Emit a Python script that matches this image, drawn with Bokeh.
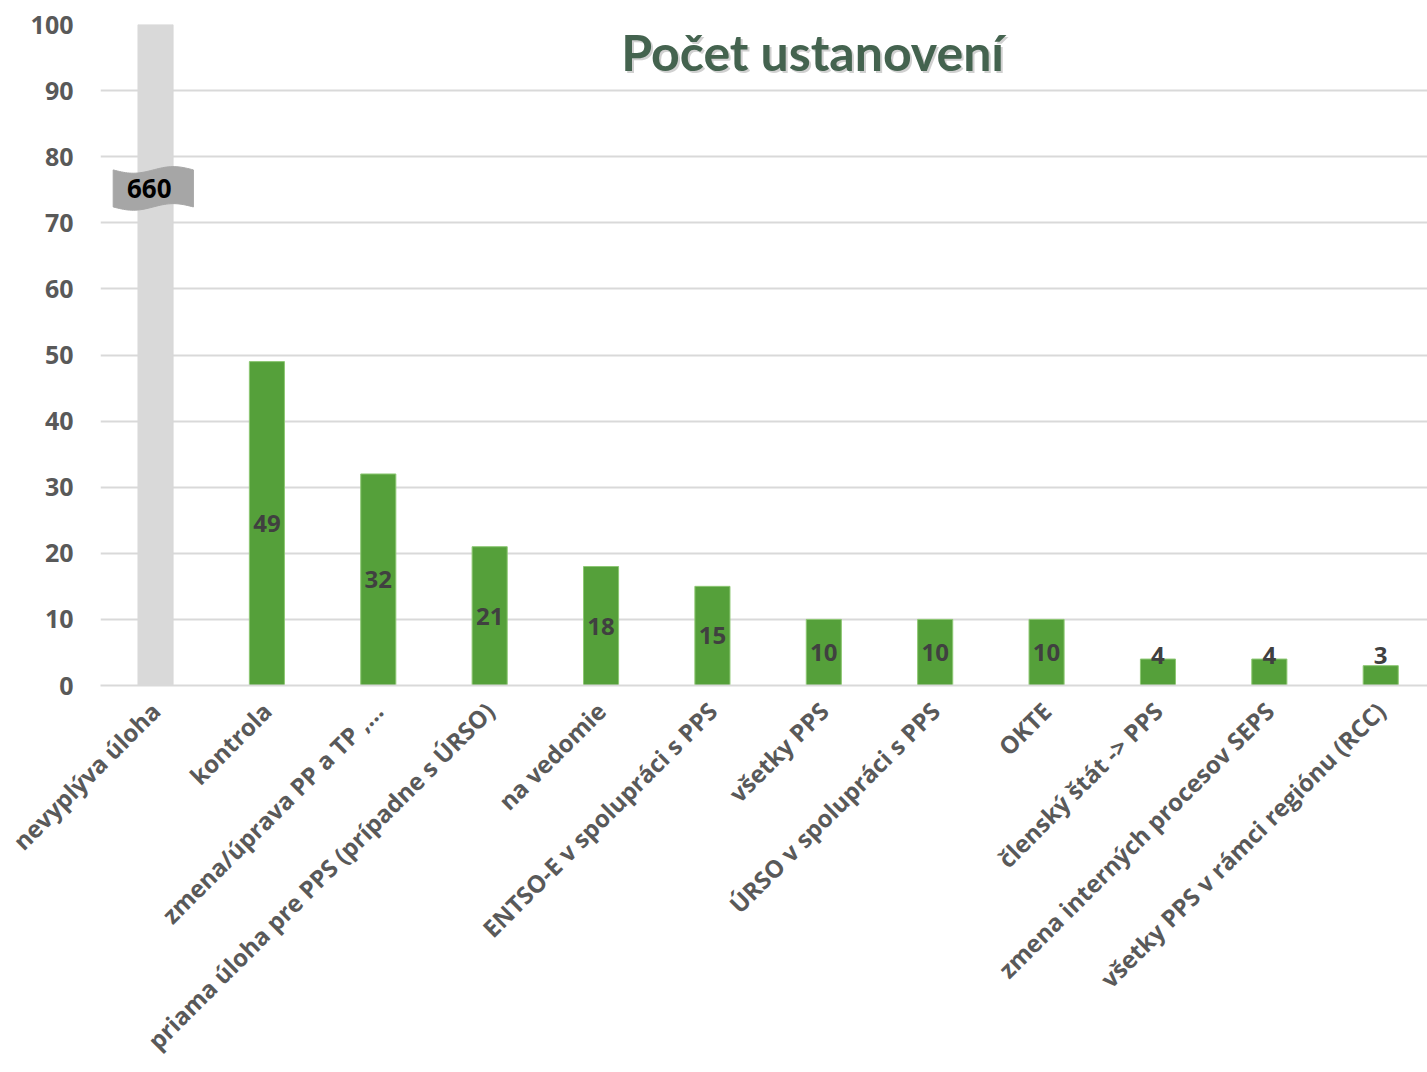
import numpy as np
from bokeh.plotting import figure
from bokeh.models import Range1d, FixedTicker, Label, LabelSet, ColumnDataSource
from bokeh.core.properties import value
from bokeh.embed import file_html
from bokeh.resources import INLINE

categories = [
    "nevyplýva úloha",
    "kontrola",
    "zmena/úprava PP a TP ,…",
    "priama úloha pre PPS (prípadne s ÚRSO)",
    "na vedomie",
    "ENTSO-E v spolupráci s PPS",
    "všetky PPS",
    "ÚRSO v spolupráci s PPS",
    "OKTE",
    "členský štát -> PPS",
    "zmena interných procesov SEPS",
    "všetky PPS v rámci regiónu (RCC)",
]
values = [660, 49, 32, 21, 18, 15, 10, 10, 10, 4, 4, 3]
y_ticks = [0, 10, 20, 30, 40, 50, 60, 70, 80, 90, 100]
title_text = "Počet ustanovení"

GREEN = "#55A03A"
GRAY = "#D9D9D9"
FONT = "Open Sans"

xs = list(range(len(categories)))
colors = [GRAY] + [GREEN] * (len(values) - 1)
line_colors = [GRAY] + ["#8DC773"] * (len(values) - 1)

p = figure(width=1427, height=1072,
           x_range=Range1d(-0.494, 11.42), y_range=Range1d(0, 100),
           output_backend="svg", toolbar_location=None,
           min_border_left=100, min_border_right=0, min_border_top=24,
           min_border_bottom=387)
p.outline_line_color = None
p.background_fill_color = "white"
p.border_fill_color = "white"

src = ColumnDataSource(dict(x=xs, top=values, color=colors, lc=line_colors))
p.vbar(x="x", top="top", bottom=0, width=0.315, fill_color="color",
       line_color="lc", line_width=1, source=src)

# grid
p.xgrid.grid_line_color = None
p.ygrid.ticker = FixedTicker(ticks=y_ticks)
p.ygrid.grid_line_color = "#D9D9D9"
p.ygrid.grid_line_width = 2
p.ygrid.level = "underlay"

# y axis
p.yaxis.ticker = FixedTicker(ticks=y_ticks)
p.yaxis.axis_line_color = None
p.yaxis.major_tick_line_color = None
p.yaxis.minor_tick_line_color = None
p.yaxis.major_label_text_font = FONT
p.yaxis.major_label_text_font_style = "bold"
p.yaxis.major_label_text_font_size = "25px"
p.yaxis.major_label_text_color = "#595959"
p.yaxis.major_label_standoff = 21

# x axis
p.xaxis.ticker = FixedTicker(ticks=xs)
p.xaxis.major_label_overrides = {i: c for i, c in enumerate(categories)}
p.xaxis.major_label_orientation = np.pi / 4
p.xaxis.axis_line_color = "#D9D9D9"
p.xaxis.axis_line_width = 2
p.xaxis.major_tick_line_color = None
p.xaxis.minor_tick_line_color = None
p.xaxis.major_label_text_font = FONT
p.xaxis.major_label_text_font_style = "bold"
p.xaxis.major_label_text_font_size = "24px"
p.xaxis.major_label_text_color = "#595959"
p.xaxis.major_label_standoff = 15

# data labels (bars except the broken first one)
lab_x = xs[1:]
lab_y = [max(v / 2.0, 4.5) for v in values[1:]]
lab_t = [str(v) for v in values[1:]]
lsrc = ColumnDataSource(dict(x=lab_x, y=lab_y, t=lab_t))
p.add_layout(LabelSet(x="x", y="y", text="t", source=lsrc,
                      text_align="center", text_baseline="middle",
                      text_font=value(FONT), text_font_style="bold",
                      text_font_size="24px", text_color="#404040"))

# wavy break banner for the first bar
bx, by, bw, bh, amp = -0.02, 75.2, 0.72, 5.6, 0.5
t = np.linspace(0, 1, 40)
top_x = bx - bw / 2 + bw * t
top_y = by + bh / 2 - amp * np.sin(2 * np.pi * t)
bot_x = top_x[::-1]
bot_y = (by - bh / 2 - amp * np.sin(2 * np.pi * t))[::-1]
p.patch(np.concatenate([top_x, bot_x]), np.concatenate([top_y, bot_y]),
        fill_color="#A6A6A6", line_color="#A6A6A6")
p.add_layout(Label(x=bx, y=by, text=str(values[0]), text_align="center",
                   text_baseline="middle", text_font=FONT,
                   text_font_style="bold", text_font_size="26px",
                   text_color="black", x_offset=-4))

# title with soft shadow
p.add_layout(Label(x=5.9, y=95.9, text=title_text, text_align="center",
                   text_baseline="middle", text_font="Lato",
                   text_font_style="bold", text_font_size="50px",
                   text_color="#B0B0B0", text_alpha=0.6,
                   x_offset=2, y_offset=-2))
p.add_layout(Label(x=5.9, y=95.9, text=title_text, text_align="center",
                   text_baseline="middle", text_font="Lato",
                   text_font_style="bold", text_font_size="50px",
                   text_color="#44634F"))

open("out.html", "w").write(file_html(p, INLINE))
